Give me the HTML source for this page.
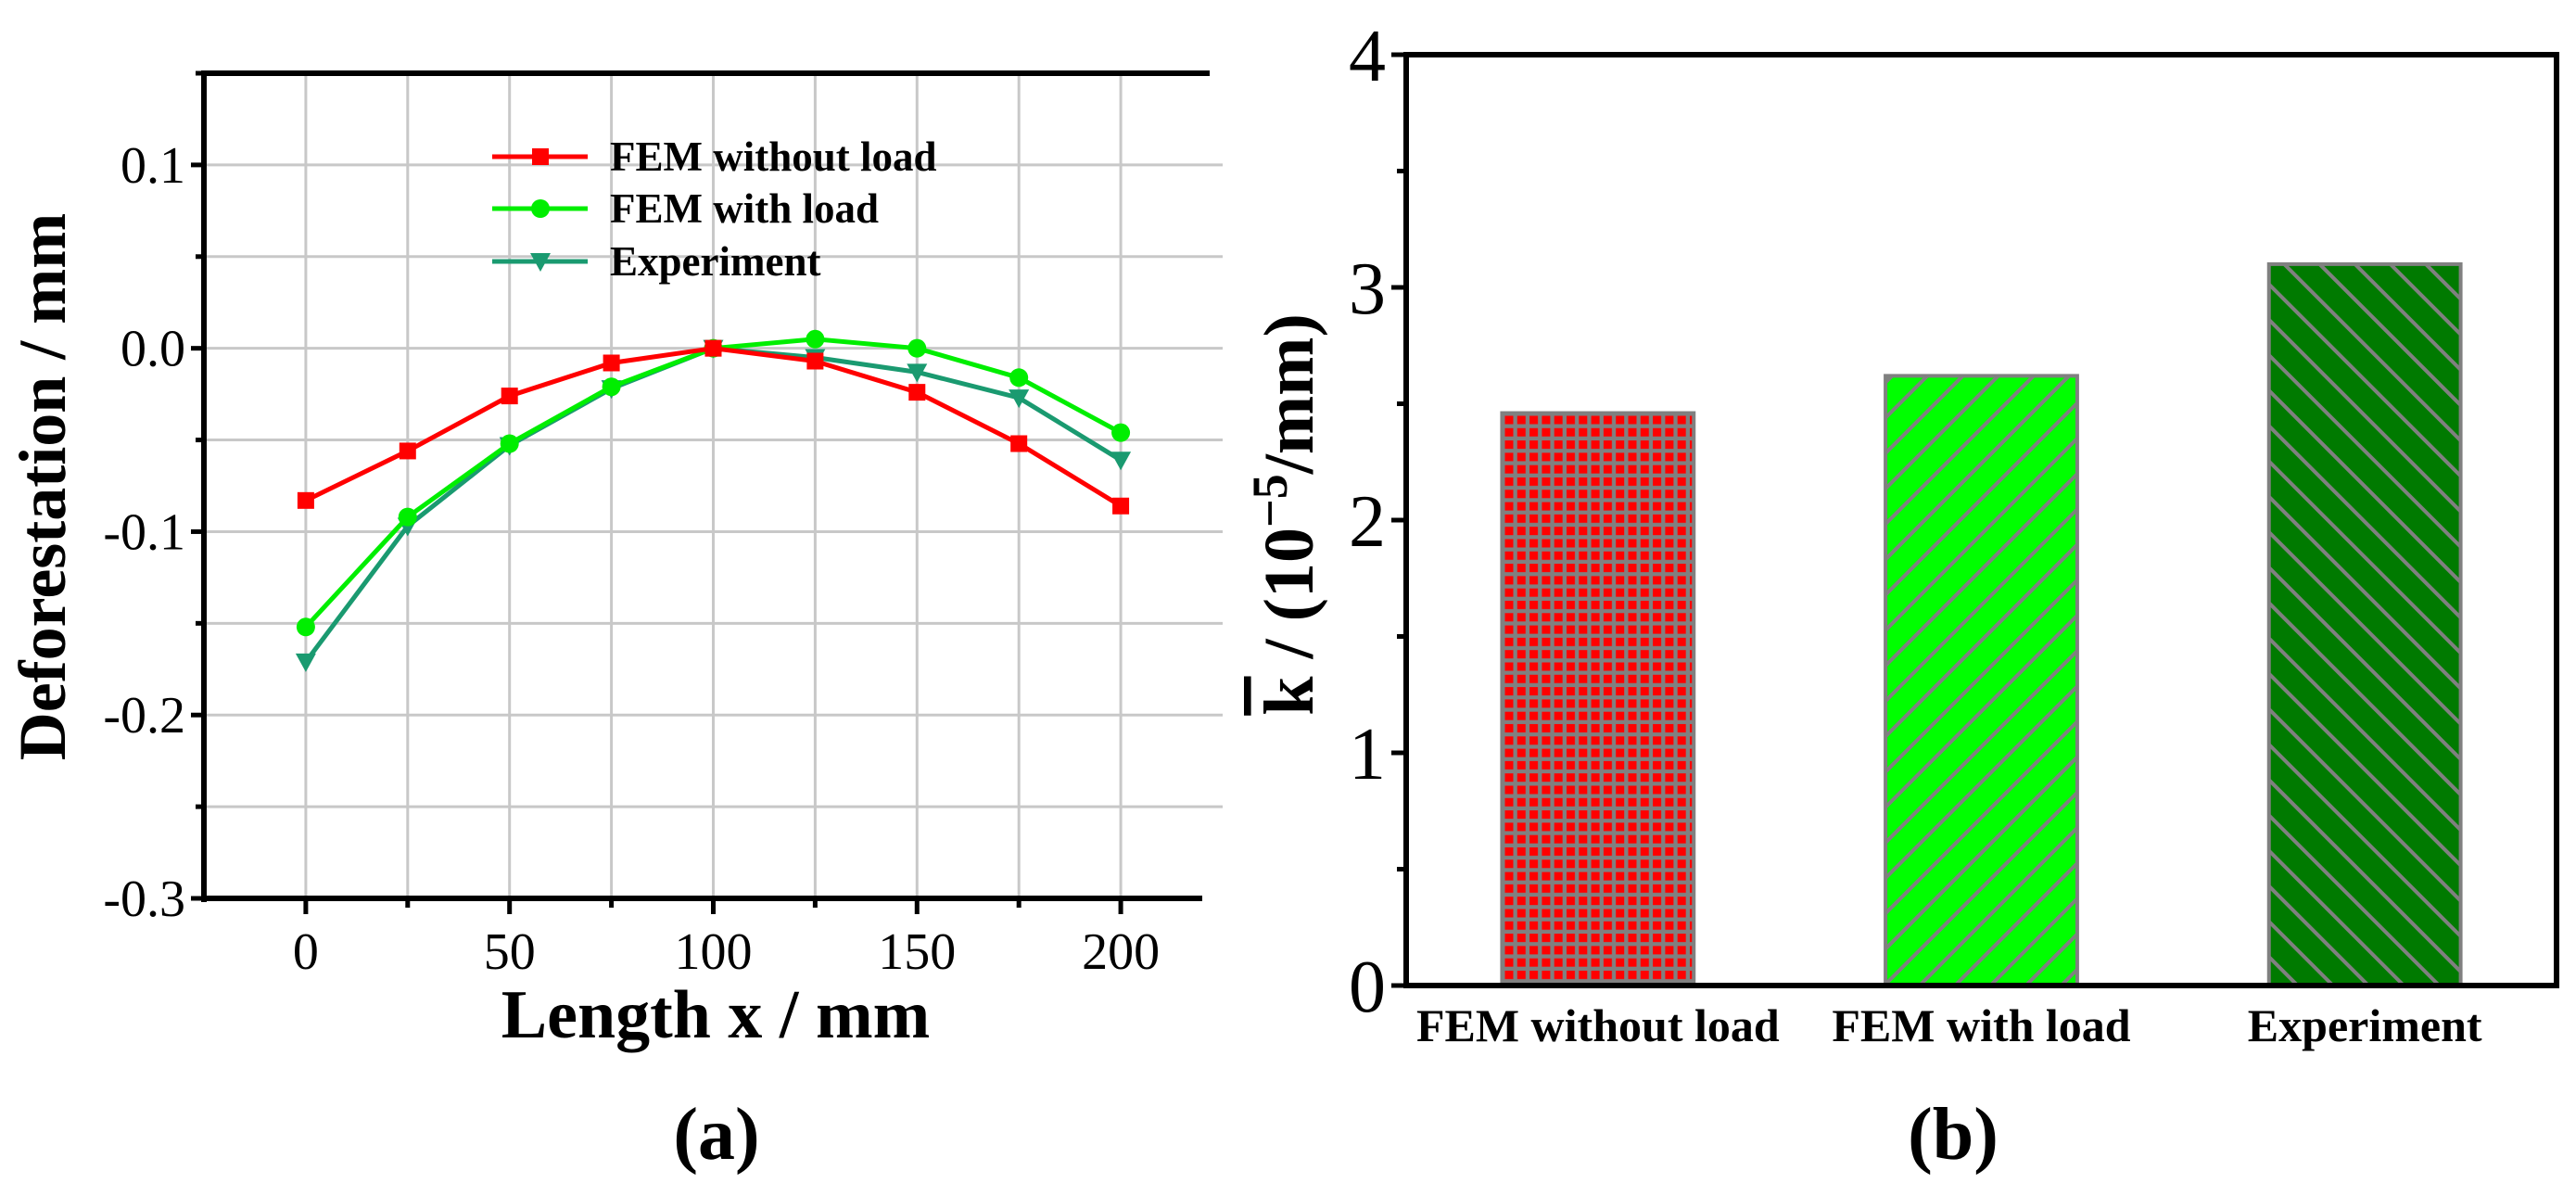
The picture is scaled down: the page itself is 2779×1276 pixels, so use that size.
<!DOCTYPE html>
<html><head><meta charset="utf-8"><style>
html,body{margin:0;padding:0;background:#fff;}
svg{display:block;font-family:"Liberation Serif",serif;}
</style></head><body>
<svg id="fig" width="2779" height="1276" viewBox="0 0 2779 1276" xmlns="http://www.w3.org/2000/svg">
<defs>
<pattern id="patRed" patternUnits="userSpaceOnUse" width="13.3" height="13.3" x="1621" y="446">
<rect width="13.3" height="13.3" fill="#808080"/><rect x="2.5" y="2.5" width="9" height="9" fill="#ff0000"/></pattern>
<pattern id="patLime" patternUnits="userSpaceOnUse" width="27" height="27" patternTransform="rotate(45)">
<rect width="27" height="27" fill="#00ff00"/><rect width="4" height="27" fill="#808080"/></pattern>
<pattern id="patDark" patternUnits="userSpaceOnUse" width="27" height="27" patternTransform="rotate(-45)">
<rect width="27" height="27" fill="#007a00"/><rect width="4" height="27" fill="#808080"/></pattern>
</defs>
<g id="chartA"></g>
<g id="chartB"></g>
</svg>
<script>
// ---- Chart (a) data ----
const xValues = [0,25,50,75,100,125,150,175,200];
const femWithoutLoad = [-0.083,-0.056,-0.026,-0.008,0,-0.007,-0.024,-0.052,-0.086];
const femWithLoad = [-0.152,-0.092,-0.052,-0.021,0,0.005,0,-0.016,-0.046];
const experiment = [-0.171,-0.097,-0.053,-0.022,0,-0.005,-0.013,-0.027,-0.061];
const xTickLabels = ["0","50","100","150","200"];
const yTickLabels = ["0.1","0.0","-0.1","-0.2","-0.3"];
// ---- Chart (b) data ----
const barCategories = ["FEM without load","FEM with load","Experiment"];
const barValues = [2.46,2.62,3.10];
const barTickLabels = ["0","1","2","3","4"];

const NS="http://www.w3.org/2000/svg";
function mk(parent,tag,attrs,text){const e=document.createElementNS(NS,tag);for(const k in attrs)e.setAttribute(k,attrs[k]);if(text!==undefined)e.textContent=text;parent.appendChild(e);return e;}

// Chart A
const A=document.getElementById('chartA');
const ax0=220, ax1=1297, ay0=79, ay1=969;
const xMin=-25,xMax=220,yMin=-0.3,yMax=0.15;
const sx=v=>ax0+(v-xMin)/(xMax-xMin)*(ax1-ax0);
const sy=v=>ay1-(v-yMin)/(yMax-yMin)*(ay1-ay0);
for(let v=0;v<=200;v+=25){const g=mk(A,'line',{x1:sx(v),x2:sx(v),y1:ay0,y2:ay1,stroke:'#c8c8c8','stroke-width':3});

}
for(let i=-5;i<=2;i++){const v=i*0.05;const g=mk(A,'line',{x1:ax0,x2:ax1+22,y1:sy(v),y2:sy(v),stroke:'#c8c8c8','stroke-width':3});

}
let e;
e=mk(A,'line',{x1:ax0,x2:ax0,y1:ay0-3,y2:ay1+4,stroke:'#000','stroke-width':6});


e=mk(A,'line',{x1:ax0-3,x2:ax1,y1:ay1,y2:ay1,stroke:'#000','stroke-width':6});


e=mk(A,'line',{x1:ax0,x2:1305,y1:ay0,y2:ay0,stroke:'#000','stroke-width':6});


for(let i=-6;i<=3;i++){const v=i*0.05;const major=(i%2===0);
e=mk(A,'line',{x1:ax0-(major?14:9),x2:ax0,y1:sy(v),y2:sy(v),stroke:'#000','stroke-width':5});

}
for(let v=0;v<=200;v+=25){const major=(v%50===0);
e=mk(A,'line',{x1:sx(v),x2:sx(v),y1:ay1,y2:ay1+(major?17:10),stroke:'#000','stroke-width':5});

}
xTickLabels.forEach(t=>{e=mk(A,'text',{x:sx(+t),y:1045,'text-anchor':'middle','font-size':56},t);

});
yTickLabels.forEach(t=>{e=mk(A,'text',{x:ax0-20,y:sy(+t)+19,'text-anchor':'end','font-size':56},t);

});
e=mk(A,'text',{x:772,y:1119,'text-anchor':'middle','font-size':74,'font-weight':'bold'},'Length x / mm');


e=mk(A,'text',{x:0,y:0,'text-anchor':'middle','font-size':72,'font-weight':'bold',transform:'translate(70,525) rotate(-90)'},'Deforestation / mm');


e=mk(A,'text',{x:773,y:1250,'text-anchor':'middle','font-size':80,'font-weight':'bold'},'(a)');



function marker(g,type,cx,cy,color){
 if(type==='square'){return mk(g,'rect',{x:cx-9,y:cy-9,width:18,height:18,fill:color});}
 if(type==='circle'){return mk(g,'circle',{cx:cx,cy:cy,r:10,fill:color});}
 return mk(g,'path',{d:`M${cx-11},${cy-9} L${cx+11},${cy-9} L${cx},${cy+11} Z`,fill:color});
}
const series=[{name:'FEM without load',vals:femWithoutLoad,color:'#ff0000',m:'square',key:'fem-without-load'},
{name:'FEM with load',vals:femWithLoad,color:'#00ee00',m:'circle',key:'fem-with-load'},
{name:'Experiment',vals:experiment,color:'#1a9a70',m:'tri',key:'experiment'}];
series.slice().reverse().forEach(s=>{
 const g=mk(A,'g',{});
 
 
 const pts=s.vals.map((v,i)=>sx(xValues[i])+','+sy(v)).join(' ');
 const pl=mk(g,'polyline',{points:pts,fill:'none',stroke:s.color,'stroke-width':5});
 
 
 s.vals.forEach((v,i)=>{const m=marker(g,s.m,sx(xValues[i]),sy(v),s.color);
 
 });
});
const L=mk(A,'g',{});


const legY=[169,225,282];
series.forEach((s,i)=>{
 const g=mk(L,'g',{});
 
 
 mk(g,'line',{x1:531,x2:634,y1:legY[i],y2:legY[i],stroke:s.color,'stroke-width':5});
 marker(g,s.m,583,legY[i],s.color);
 mk(g,'text',{x:658,y:legY[i]+15,'font-size':45,'font-weight':'bold'},s.name);
});

// Chart B
const B=document.getElementById('chartB');
const bx0=1517,bx1=2758,by0=59,by1=1063;
const bxs=c=>bx0+(c-0.5)/3*(bx1-bx0);
const bys=v=>by1-v/4*(by1-by0);
const pats=['url(#patRed)','url(#patLime)','url(#patDark)'];
barValues.forEach((v,i)=>{
 const w=(bx1-bx0)/3*0.5;
 e=mk(B,'rect',{x:bxs(i+1)-w/2,y:bys(v),width:w,height:by1-bys(v),fill:pats[i],stroke:'#808080','stroke-width':4});
 
 
 e=mk(B,'text',{x:bxs(i+1),y:1123,'text-anchor':'middle','font-size':50,'font-weight':'bold'},barCategories[i]);
 
 
});
e=mk(B,'rect',{x:bx0,y:by0,width:bx1-bx0,height:by1-by0,fill:'none',stroke:'#000','stroke-width':6});


for(let i=0;i<=8;i++){const v=i*0.5;const major=i%2===0;
 e=mk(B,'line',{x1:bx0-(major?16:10),x2:bx0,y1:bys(v),y2:bys(v),stroke:'#000','stroke-width':5});
 
 }
barTickLabels.forEach(t=>{e=mk(B,'text',{x:bx0-22,y:bys(+t)+28,'text-anchor':'end','font-size':80},t);
 
 });
const yt=mk(B,'text',{x:0,y:0,'text-anchor':'middle','font-size':76,'font-weight':'bold',transform:'translate(1416,555) rotate(-90)'});


mk(yt,'tspan',{'text-decoration':'overline'},'k');
mk(yt,'tspan',{},' / (10');
mk(yt,'tspan',{dy:-28,'font-size':54},'−5');
mk(yt,'tspan',{dy:28},'/mm)');
e=mk(B,'text',{x:2107,y:1250,'text-anchor':'middle','font-size':80,'font-weight':'bold'},'(b)');


</script>
</body></html>
